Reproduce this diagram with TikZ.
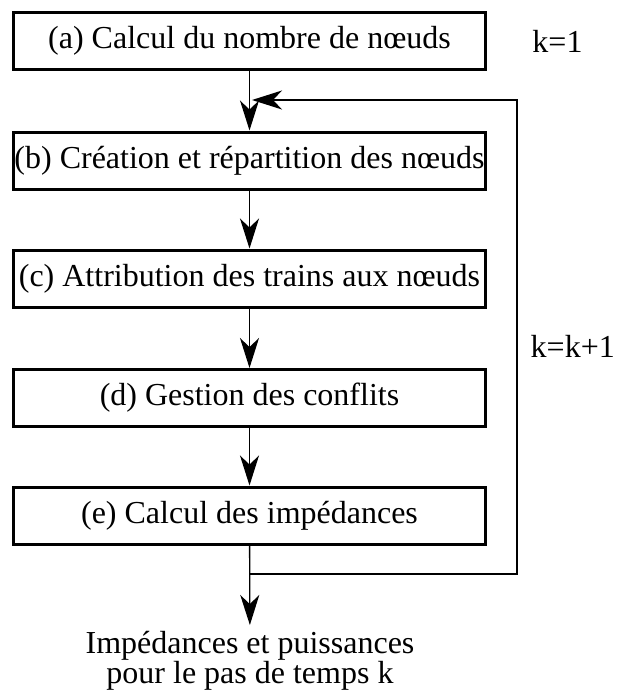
\documentclass[tikz,border=0pt]{standalone}
\usepackage{fontspec}
\setmainfont{Liberation Serif}
\usetikzlibrary{arrows.meta}

\begin{document}
\begin{tikzpicture}
  [
    x = 1pt, y = -1pt,
    stage/.style = {draw,line width=3pt,minimum width=472pt,minimum height=57pt,inner sep=0pt,
                    font=\rmfamily\fontsize{32}{30}\selectfont},
    flow/.style = {line width=1.3pt},
    label text/.style = {inner sep=0pt,font=\rmfamily\fontsize{32}{30}\selectfont},
    > = {Stealth[length=30pt,width=19pt,inset=9pt]},
  ]

  \useasboundingbox (0,0) rectangle (616,693);

  \node[stage] (calc)   at (249.5,41)    {(a) Calcul du nombre de nœuds};
  \node[stage] (create) at (249.5,160.5) {(b) Création et répartition des nœuds};
  \node[stage] (assign) at (249.5,278.5) {(c) Attribution des trains aux nœuds};
  \node[stage] (confl)  at (249.5,398)   {(d) Gestion des conflits};
  \node[stage] (imped)  at (249.5,515.5) {(e) Calcul des impédances};

  \node[label text,align=center,anchor=north,inner ysep=6pt] (result) at (250,625)
    {Impédances et puissances\\pour le pas de temps k};

  \node[label text] (init) at (557.5,41) {k=1};
  \node[label text,anchor=east] (incr) at (615,346) {k=k+1};

  \coordinate (split) at (250,574);
  \coordinate (back)  at (252,100);
  \coordinate (loop low)  at (517,574);
  \coordinate (loop high) at (517,100);

  \draw [->,flow] (calc)   -- (create);
  \draw [->,flow] (create) -- (assign);
  \draw [->,flow] (assign) -- (confl);
  \draw [->,flow] (confl)  -- (imped);
  \draw [->,flow] (imped)  -- (result);
  \draw [->,flow] (split) -- (loop low) -- (loop high) -- (back);

\end{tikzpicture}
\end{document}
